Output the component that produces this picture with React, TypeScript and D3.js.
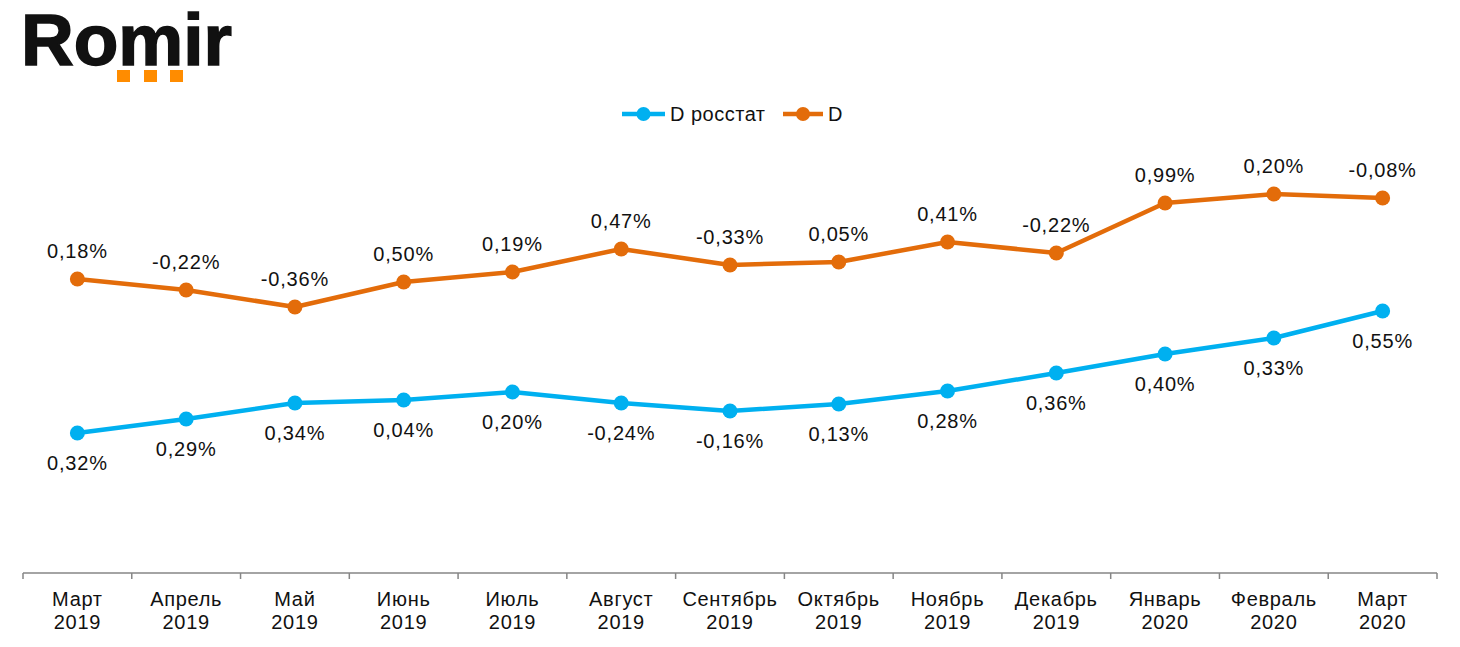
import React, { useEffect, useRef } from 'react'
import * as d3 from 'd3'

// months on the x axis (two lines each)
const months = ['Март', 'Апрель', 'Май', 'Июнь', 'Июль', 'Август', 'Сентябрь', 'Октябрь', 'Ноябрь', 'Декабрь', 'Январь', 'Февраль', 'Март']
const years = ['2019', '2019', '2019', '2019', '2019', '2019', '2019', '2019', '2019', '2019', '2020', '2020', '2020']

// plotted level of each series (no y axis shown)
const rosstatLevel = [1.40, 1.54, 1.70, 1.73, 1.81, 1.70, 1.62, 1.69, 1.82, 2.00, 2.19, 2.35, 2.62]
const dLevel = [2.94, 2.83, 2.66, 2.91, 3.01, 3.24, 3.08, 3.11, 3.31, 3.20, 3.70, 3.79, 3.75]

// data labels printed next to the points
const rosstatLabels = ['0,32%', '0,29%', '0,34%', '0,04%', '0,20%', '-0,24%', '-0,16%', '0,13%', '0,28%', '0,36%', '0,40%', '0,33%', '0,55%']
const dLabels = ['0,18%', '-0,22%', '-0,36%', '0,50%', '0,19%', '0,47%', '-0,33%', '0,05%', '0,41%', '-0,22%', '0,99%', '0,20%', '-0,08%']

const seriesNames = ['D росстат', 'D']
const colors = ['#00b0f0', '#e36c0a']

const W = 1460
const H = 647
const FONT = '"Liberation Sans", Arial, Helvetica, sans-serif'

const App = () => {
  const svgRef = useRef<SVGSVGElement>(null)

  useEffect(() => {
    const svg = d3.select(svgRef.current)
    svg.selectAll('*').remove()

    const keys = months.map((_, i) => String(i))
    const x = d3.scaleBand<string>().domain(keys).range([23, 1437]).padding(0)
    const y = d3.scaleLinear().domain([0, 4]).range([573, 173])
    const cx = (i: number) => x(String(i))! + x.bandwidth() / 2

    // logo
    const logo = svg.append('g')
    logo.append('text')
      .attr('x', 21).attr('y', 65)
      .attr('font-family', FONT).attr('font-weight', 'bold')
      .attr('font-size', 72).attr('fill', '#111')
      .attr('stroke', '#111').attr('stroke-width', 1.5)
      .attr('textLength', 211).attr('lengthAdjust', 'spacingAndGlyphs')
      .text('Romir')
    logo.selectAll('rect').data([117, 144, 170]).join('rect')
      .attr('x', d => d).attr('y', 70).attr('width', 13).attr('height', 12)
      .attr('fill', '#ff8c00')

    // x axis
    const axis = svg.append('g').attr('transform', 'translate(0,573)')
    axis.append('line').attr('x1', 23).attr('x2', 1437)
      .attr('stroke', '#868686').attr('stroke-width', 1.5)
    const bounds = keys.map(k => x(k)!).concat([1437])
    axis.selectAll('line.tick').data(bounds).join('line')
      .attr('class', 'tick')
      .attr('x1', d => d).attr('x2', d => d).attr('y1', 0).attr('y2', 6)
      .attr('stroke', '#868686').attr('stroke-width', 1.5)
    const lbl = axis.selectAll('text').data(months).join('text')
      .attr('x', (_, i) => cx(i)).attr('text-anchor', 'middle')
      .attr('font-family', FONT).attr('font-size', 20).attr('fill', '#111')
      .attr('letter-spacing', 0.7)
    lbl.append('tspan').attr('x', (_, i) => cx(i)).attr('y', 33).text(d => d)
    lbl.append('tspan').attr('x', (_, i) => cx(i)).attr('y', 56).text((_, i) => years[i])

    const line = d3.line<number>().x((_, i) => cx(i)).y(d => y(d))

    const series = [
      { vals: rosstatLevel, labels: rosstatLabels, color: colors[0], dy: 30 },
      { vals: dLevel, labels: dLabels, color: colors[1], dy: -28 },
    ]

    series.forEach(s => {
      const g = svg.append('g')
      g.append('path').datum(s.vals).attr('d', line)
        .attr('fill', 'none').attr('stroke', s.color).attr('stroke-width', 4.5)
        .attr('stroke-linejoin', 'round')
      g.selectAll('circle').data(s.vals).join('circle')
        .attr('cx', (_, i) => cx(i)).attr('cy', d => y(d)).attr('r', 7.5)
        .attr('fill', s.color)
      g.selectAll('text').data(s.vals).join('text')
        .attr('x', (_, i) => cx(i)).attr('y', d => y(d) + s.dy)
        .attr('dominant-baseline', 'central').attr('text-anchor', 'middle')
        .attr('font-family', FONT).attr('font-size', 20).attr('fill', '#111')
        .attr('letter-spacing', 0.8)
        .text((_, i) => s.labels[i])
    })

    // legend
    const legendItems = [
      { name: seriesNames[0], color: colors[0], x1: 622, x2: 665 },
      { name: seriesNames[1], color: colors[1], x1: 783, x2: 823 },
    ]
    const lg = svg.append('g').attr('transform', 'translate(0,114)')
    legendItems.forEach(it => {
      lg.append('line').attr('x1', it.x1).attr('x2', it.x2)
        .attr('stroke', it.color).attr('stroke-width', 4.5)
      lg.append('circle').attr('cx', (it.x1 + it.x2) / 2).attr('r', 7).attr('fill', it.color)
      lg.append('text').attr('x', it.x2 + 5)
        .attr('dominant-baseline', 'central')
        .attr('font-family', FONT).attr('font-size', 20).attr('fill', '#111')
        .attr('letter-spacing', 0.5)
        .text(it.name)
    })
  }, [])

  return (
    <svg ref={svgRef} width={W} height={H}
      style={{ position: 'absolute', left: 0, top: 0, background: '#fff' }} />
  )
}

export default App
